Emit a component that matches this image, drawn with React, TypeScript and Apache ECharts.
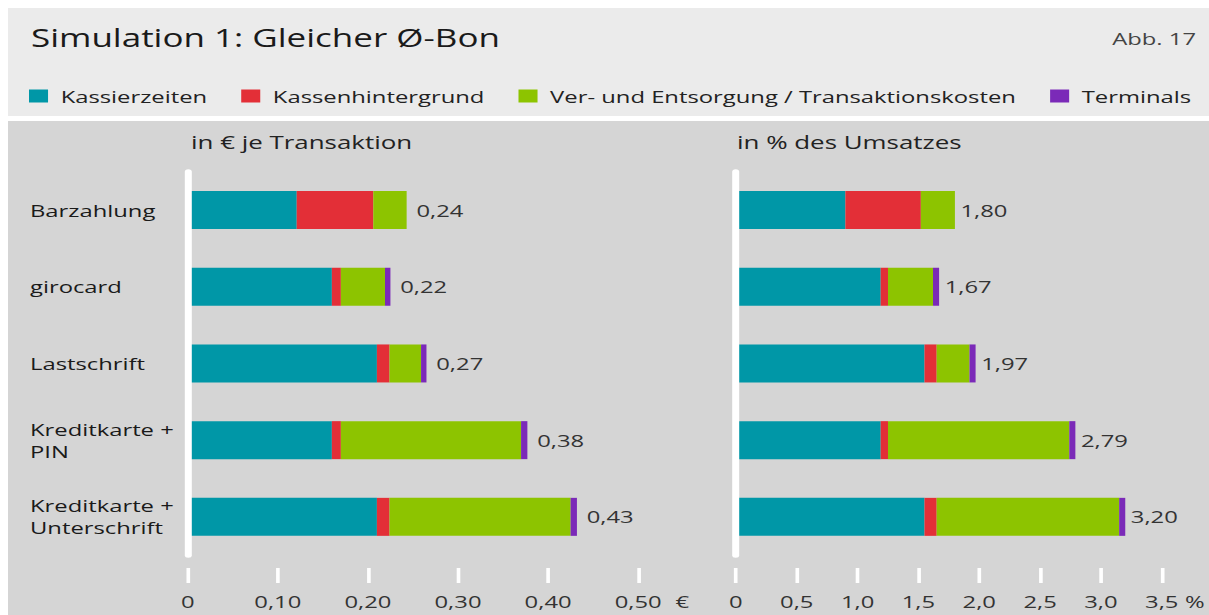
import React, { useEffect, useRef } from 'react';
import * as echarts from 'echarts';

// Horizontal stretch of the reference (text and shapes appear widened)
const SX = 1.4;
const W = 1209;
const H = 615;
const CW = W / SX;
const FONT = "'Open Sans', 'Noto Sans', sans-serif";

const categories = ['Barzahlung', 'girocard', 'Lastschrift', 'Kreditkarte +\nPIN', 'Kreditkarte +\nUnterschrift'];
const seriesNames = ['Kassierzeiten', 'Kassenhintergrund', 'Ver- und Entsorgung / Transaktionskosten', 'Terminals'];
const colors = ['#0097a7', '#e32f37', '#8dc400', '#7b2ab8'];

// in € je Transaktion
const euroKassier = [0.121, 0.160, 0.210, 0.160, 0.210];
const euroHintergrund = [0.085, 0.010, 0.014, 0.010, 0.014];
const euroEntsorgung = [0.037, 0.049, 0.035, 0.200, 0.201];
const euroTerminals = [0, 0.006, 0.006, 0.007, 0.007];
const euroTotals = ['0,24', '0,22', '0,27', '0,38', '0,43'];

// in % des Umsatzes
const pctKassier = [0.90, 1.19, 1.55, 1.19, 1.55];
const pctHintergrund = [0.62, 0.06, 0.10, 0.06, 0.10];
const pctEntsorgung = [0.28, 0.37, 0.27, 1.49, 1.50];
const pctTerminals = [0, 0.05, 0.05, 0.05, 0.05];
const pctTotals = ['1,80', '1,67', '1,97', '2,79', '3,20'];

const euroAxis = { min: 0, max: 0.5, interval: 0.1, unit: '€' };
const pctAxis = { min: 0, max: 3.5, interval: 0.5, unit: '%' };

const TXT = '#222222';

function buildSeries(groups: number[][], totals: string[], idx: number, labelDist: number) {
  return groups.map((vals, si) => ({
    name: seriesNames[si],
    type: 'bar',
    stack: 'total' + idx,
    xAxisIndex: idx,
    yAxisIndex: idx,
    barWidth: 38,
    itemStyle: { color: colors[si] },
    label: { show: false },
    data: vals.map((v, i) => {
      let last = 0;
      groups.forEach((g, k) => {
        if (g[i] > 0) last = k;
      });
      if (si === last) {
        return {
          value: v,
          label: {
            show: true,
            position: 'right',
            distance: labelDist,
            formatter: totals[i],
            fontSize: 17,
            fontFamily: FONT,
            color: '#333',
          },
        };
      }
      return v;
    }),
  }));
}

function xAxisFor(idx: number, ax: { min: number; max: number; interval: number; unit: string }, decimals: number, unitGap: number, unitW: number) {
  return {
    type: 'value',
    gridIndex: idx,
    min: ax.min,
    max: ax.max,
    interval: ax.interval,
    position: 'bottom',
    offset: 12.8,
    axisLine: { show: false },
    splitLine: { show: false },
    axisTick: { show: true, length: 15, lineStyle: { color: '#ffffff', width: 2.6 } },
    axisLabel: {
      margin: 25,
      fontSize: 17,
      fontFamily: FONT,
      color: '#333',
      formatter: (v: number) => {
        const s = v === 0 ? '0' : v.toFixed(decimals).replace('.', ',');
        if (Math.abs(v - ax.max) < 1e-9) return '{v|' + s + '}{u|' + ax.unit + '}';
        return s;
      },
      rich: {
        v: { fontSize: 17, fontFamily: FONT, color: '#333', padding: [0, 0, 0, unitGap + unitW] },
        u: { fontSize: 17, fontFamily: FONT, color: '#333', padding: [0, 0, 0, unitGap] },
      },
    },
  };
}

function yAxisFor(idx: number, showLabels: boolean) {
  return {
    type: 'category',
    gridIndex: idx,
    data: categories,
    inverse: true,
    z: 10,
    axisLine: { show: true, lineStyle: { color: '#ffffff', width: 5 } },
    axisTick: { show: false },
    splitLine: { show: false },
    axisLabel: {
      show: showLabels,
      align: 'left',
      margin: (187.7 - 30) / SX,
      fontSize: 17,
      lineHeight: 22,
      fontWeight: 500,
      fontFamily: FONT,
      color: '#1a1a1a',
    },
  };
}

function buildOption() {
  return {
    animation: false,
    textStyle: { fontFamily: FONT },
    graphic: [
      { type: 'rect', z: -10, silent: true, shape: { x: 8 / SX, y: 8, width: (W - 8) / SX, height: 108 }, style: { fill: '#ebebeb' } },
      { type: 'rect', z: -10, silent: true, shape: { x: 8 / SX, y: 121, width: (W - 8) / SX, height: H - 121 }, style: { fill: '#d5d5d5' } },
      { type: 'text', x: 31 / SX, y: 37, style: { text: 'Simulation 1: Gleicher Ø-Bon', fontSize: 25, fontWeight: 500, fontFamily: FONT, fill: '#1a1a1a', verticalAlign: 'middle', align: 'left' } },
      { type: 'text', x: 1196 / SX, y: 38, style: { text: 'Abb. 17', fontSize: 17, fontFamily: FONT, fill: '#444', verticalAlign: 'middle', align: 'right' } },
      { type: 'text', x: 191 / SX, y: 142, style: { text: 'in € je Transaktion', fontSize: 18.5, fontWeight: 500, fontFamily: FONT, fill: TXT, verticalAlign: 'middle', align: 'left' } },
      { type: 'text', x: 737 / SX, y: 142, style: { text: 'in % des Umsatzes', fontSize: 18.5, fontWeight: 500, fontFamily: FONT, fill: TXT, verticalAlign: 'middle', align: 'left' } },
    ],
    legend: {
      left: 29 / SX,
      top: 87.5,
      padding: 0,
      itemGap: 24.3,
      itemWidth: 13.6,
      itemHeight: 13,
      icon: 'rect',
      selectedMode: false,
      data: seriesNames,
      textStyle: { fontSize: 17, fontFamily: FONT, color: TXT, padding: [0, 0, 0, 4] },
    },
    grid: [
      { left: 187.7 / SX, top: 171.7, width: 450.5 / SX, height: 383.5, containLabel: false },
      { left: 735.9 / SX, top: 171.7, width: 427.3 / SX, height: 383.5, containLabel: false },
    ],
    xAxis: [xAxisFor(0, euroAxis, 2, 9.8, 9.7), xAxisFor(1, pctAxis, 1, 4.8, 14)],
    yAxis: [yAxisFor(0, true), yAxisFor(1, false)],
    series: [
      ...buildSeries([euroKassier, euroHintergrund, euroEntsorgung, euroTerminals], euroTotals, 0, 7),
      ...buildSeries([pctKassier, pctHintergrund, pctEntsorgung, pctTerminals], pctTotals, 1, 4),
    ],
  };
}

export default function App() {
  const ref = useRef<HTMLDivElement>(null);
  useEffect(() => {
    if (!ref.current) return;
    const chart = echarts.init(ref.current, null, { renderer: 'svg', width: CW, height: H });
    chart.setOption(buildOption() as any);
    return () => chart.dispose();
  }, []);
  return (
    <div style={{ position: 'absolute', left: 0, top: 0, width: W, height: H, overflow: 'hidden', background: '#ffffff' }}>
      <div ref={ref} style={{ width: CW, height: H, transform: `scaleX(${SX})`, transformOrigin: '0 0' }} />
    </div>
  );
}
